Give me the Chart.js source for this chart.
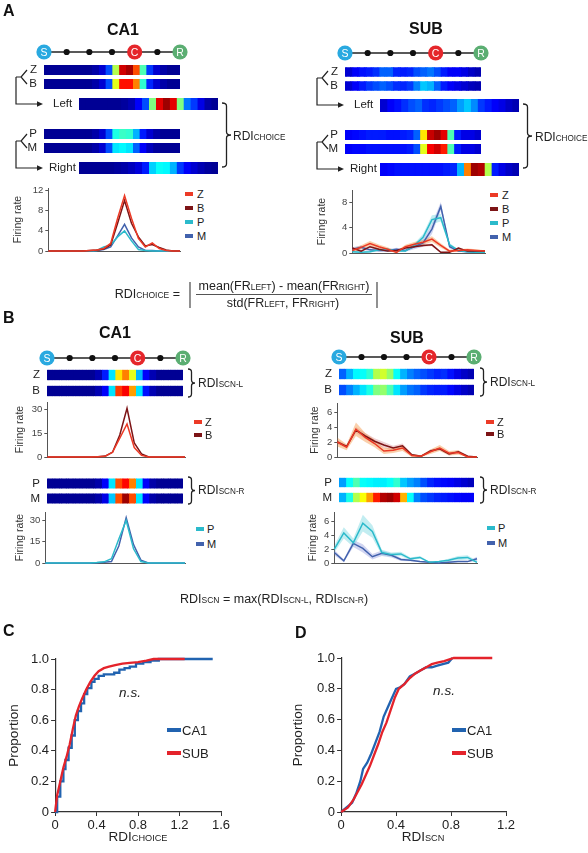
<!DOCTYPE html>
<html>
<head>
<meta charset="utf-8">
<script src="https://cdn.jsdelivr.net/npm/chart.js@4.4.1/dist/chart.umd.min.js"></script>
<style>
body { margin: 0; background: #fff; }
#fig { position: relative; width: 588px; height: 853px; overflow: hidden; font-family: "Liberation Sans", Arial, sans-serif; color: #222; }
#fig canvas { position: absolute; }
#deco { position: absolute; left: 0; top: 0; }
.t { position: absolute; white-space: nowrap; line-height: 1; }
.bold { font-weight: bold; font-size: 16px; color: #111; }
.lab { font-size: 11.5px; }
.rdi { font-size: 12px; }
.sc { font-size: 0.68em; }
.frm { font-size: 12.5px; }
.ns { font-style: italic; font-size: 13.5px; }
.ax { font-size: 13.5px; }
.leg { font-size: 11px; }
.legbig { font-size: 13px; }
.mark { position: absolute; }
</style>
</head>
<body>
<div id="fig"></div>
<script>
// ---- data ----
// heatmap rows, normalised firing (0..1), 20 spatial bins
const heatA_CA1_Z = [0.02,0.02,0.02,0.02,0.02,0.02,0.02,0.04,0.08,0.2,0.55,0.92,0.96,0.8,0.45,0.18,0.08,0.04,0.02,0.02];
const heatA_CA1_B = [0.02,0.02,0.02,0.02,0.02,0.02,0.02,0.04,0.08,0.2,0.6,0.86,0.86,0.75,0.42,0.16,0.08,0.04,0.02,0.02];
const heatA_CA1_Left = [0.02,0.02,0.02,0.02,0.02,0.02,0.03,0.05,0.12,0.2,0.5,0.9,0.97,0.9,0.5,0.24,0.18,0.1,0.04,0.02];
const heatA_CA1_P = [0.02,0.02,0.02,0.02,0.02,0.02,0.02,0.04,0.08,0.2,0.4,0.43,0.42,0.3,0.15,0.08,0.04,0.02,0.02,0.02];
const heatA_CA1_M = [0.02,0.02,0.02,0.02,0.02,0.02,0.02,0.04,0.08,0.2,0.35,0.37,0.35,0.22,0.12,0.06,0.03,0.02,0.02,0.02];
const heatA_CA1_Right = [0.02,0.02,0.02,0.02,0.02,0.03,0.04,0.06,0.09,0.15,0.33,0.38,0.37,0.3,0.18,0.12,0.08,0.05,0.03,0.02];

const heatA_SUB_Z = [0.08,0.12,0.14,0.15,0.17,0.22,0.22,0.16,0.15,0.16,0.2,0.22,0.24,0.2,0.15,0.12,0.12,0.1,0.07,0.05];
const heatA_SUB_B = [0.08,0.12,0.15,0.18,0.2,0.22,0.2,0.17,0.16,0.18,0.25,0.32,0.3,0.22,0.15,0.12,0.1,0.08,0.06,0.05];
const heatA_SUB_Left = [0.08,0.12,0.14,0.17,0.2,0.22,0.17,0.16,0.18,0.2,0.22,0.28,0.32,0.26,0.18,0.15,0.12,0.1,0.07,0.05];
const heatA_SUB_P = [0.12,0.13,0.14,0.15,0.15,0.15,0.14,0.14,0.15,0.16,0.22,0.65,0.93,0.97,0.9,0.45,0.15,0.1,0.1,0.08];
const heatA_SUB_M = [0.12,0.13,0.13,0.14,0.14,0.14,0.14,0.14,0.14,0.15,0.2,0.6,0.88,0.92,0.85,0.45,0.15,0.1,0.1,0.08];
const heatA_SUB_Right = [0.12,0.13,0.14,0.14,0.14,0.14,0.14,0.14,0.14,0.15,0.16,0.3,0.75,0.97,0.95,0.55,0.15,0.1,0.07,0.05];

const heatB_CA1_Z = [0.02,0.02,0.02,0.02,0.02,0.02,0.02,0.05,0.15,0.35,0.65,0.75,0.6,0.3,0.12,0.05,0.02,0.02,0.02,0.02];
const heatB_CA1_B = [0.02,0.02,0.02,0.02,0.02,0.02,0.02,0.05,0.12,0.35,0.82,0.88,0.72,0.35,0.14,0.05,0.02,0.02,0.02,0.02];
const heatB_CA1_P = [0.02,0.02,0.02,0.02,0.02,0.02,0.02,0.04,0.12,0.35,0.8,0.87,0.75,0.35,0.12,0.04,0.02,0.02,0.02,0.02];
const heatB_CA1_M = [0.02,0.02,0.02,0.02,0.02,0.02,0.02,0.04,0.1,0.32,0.8,0.97,0.8,0.35,0.12,0.04,0.02,0.02,0.02,0.02];

const heatB_SUB_Z = [0.22,0.3,0.37,0.38,0.42,0.55,0.58,0.52,0.38,0.3,0.25,0.22,0.2,0.18,0.16,0.17,0.14,0.1,0.07,0.05];
const heatB_SUB_B = [0.2,0.25,0.3,0.35,0.4,0.5,0.52,0.45,0.35,0.28,0.24,0.22,0.18,0.16,0.15,0.15,0.13,0.1,0.07,0.05];
const heatB_SUB_P = [0.28,0.38,0.45,0.38,0.37,0.36,0.36,0.38,0.42,0.32,0.28,0.25,0.2,0.16,0.14,0.13,0.12,0.1,0.08,0.06];
const heatB_SUB_M = [0.3,0.4,0.55,0.62,0.72,0.85,0.95,0.97,0.92,0.7,0.38,0.25,0.2,0.18,0.16,0.15,0.14,0.13,0.12,0.12];

// firing rate curves (Hz)
const frA_CA1_Z = [0,0,0,0,0,0,0.1,0.2,0.5,1.5,6.5,11,6.5,2.5,0.8,1.6,0.5,0.1,0,0];
const frA_CA1_B = [0,0,0,0,0,0,0.1,0.2,0.4,1.2,5.5,10,5.5,2.8,1.0,1.3,0.7,0.2,0,0];
const frA_CA1_P = [0,0,0,0,0,0,0,0.1,0.8,1.2,2.8,4,2.0,0.3,0.1,0,0,0,0,0];
const frA_CA1_M = [0,0,0,0,0,0,0,0.1,0.3,0.8,3,5.3,2.6,0.8,0.1,0.1,0,0,0,0];

const frA_SUB_Z = [0.4,0.9,1.5,1.0,0.6,0.1,1.0,1.4,1.7,2.2,1.2,0.3,0.4,0.5,0.4,0.3];
const frA_SUB_B = [0.8,0.3,1.0,0.6,0.3,0.4,0.8,1.0,1.2,1.3,0.1,0.1,0.8,0.3,0.3,0.3];
const frA_SUB_P = [0.2,0.1,0.2,0.5,0.6,0.3,0.3,1.2,2.5,5.3,5.6,1.3,0.4,0.2,0.1,0.1];
const frA_SUB_M = [0.6,0.9,0.5,0.4,0.4,0.6,0.4,1.0,1.6,3.8,7.4,1.0,0.3,0.2,0.1,0.1];
const semA_SUB_Z = [0.3,0.35,0.4,0.35,0.3,0.2,0.3,0.35,0.4,0.45,0.35,0.2,0.2,0.2,0.2,0.15];
const semA_SUB_B = [0.15,0.1,0.15,0.15,0.1,0.1,0.15,0.15,0.2,0.2,0.1,0.1,0.15,0.1,0.1,0.1];
const semA_SUB_P = [0.15,0.1,0.15,0.2,0.2,0.15,0.15,0.3,0.5,0.7,0.6,0.3,0.15,0.1,0.1,0.1];
const semA_SUB_M = [0.3,0.3,0.25,0.2,0.2,0.25,0.2,0.4,0.6,0.8,0.7,0.3,0.15,0.1,0.1,0.1];

const frB_CA1_Z = [0,0,0,0,0,0,0,0.2,0.5,3,12,21,6,1,0,0,0,0,0,0];
const frB_CA1_B = [0,0,0,0,0,0,0,0.2,0.6,3,14,31,9,2,0,0,0,0,0,0];
const frB_CA1_P = [0,0,0,0,0,0,0,0.3,0.8,3,17,30,10,1,0,0,0,0,0,0];
const frB_CA1_M = [0,0,0,0,0,0,0,0.2,0.5,1,12,32,13,2,0,0,0,0,0,0];

const frB_SUB_Z = [2.0,1.3,3.7,2.6,1.8,0.8,0.9,1.2,0.2,0.1,0.7,1.2,0.5,0.6,0,0];
const frB_SUB_B = [2.0,1.4,3.6,2.8,2.1,1.6,1.2,1.5,0.3,0.1,0.8,1.1,0.4,0.7,0.1,0];
const frB_SUB_P = [2.0,4.3,2.9,5.7,4.5,1.5,1.2,1.3,0.6,0.8,0.1,0.2,0.4,0.7,0.8,0.1];
const frB_SUB_M = [1.5,0.3,2.8,2.1,0.9,1.4,1.1,0.5,0.4,0.2,0.1,0,0.1,0.2,0.2,0.6];
const semB_SUB_Z = [0.6,0.4,0.9,0.6,0.5,0.4,0.35,0.4,0.2,0.15,0.3,0.4,0.3,0.3,0.1,0.05];
const semB_SUB_B = [0.3,0.2,0.4,0.4,0.4,0.4,0.3,0.3,0.15,0.1,0.2,0.2,0.2,0.2,0.1,0.05];
const semB_SUB_P = [0.5,0.8,0.6,1.2,0.9,0.4,0.3,0.3,0.2,0.2,0.1,0.1,0.2,0.3,0.3,0.2];
const semB_SUB_M = [0.4,0.2,0.5,0.6,0.4,0.4,0.3,0.2,0.15,0.1,0.1,0.05,0.1,0.1,0.1,0.3];

const ticksA_CA1 = [0, 4, 8, 12];
const ticksA_SUB = [0, 4, 8];
const ticksB_CA1 = [0, 15, 30];
const ticksB_SUB = [0, 2, 4, 6];

// cumulative distributions
const cdfC_CA1_x = [0,0.02,0.05,0.08,0.1,0.13,0.16,0.19,0.22,0.25,0.28,0.31,0.35,0.38,0.42,0.47,0.52,0.57,0.62,0.67,0.72,0.78,0.85,0.92,1.0,1.52];
const cdfC_CA1_y = [0,0.1,0.2,0.28,0.34,0.42,0.5,0.6,0.66,0.71,0.77,0.81,0.85,0.87,0.89,0.9,0.9,0.91,0.93,0.94,0.95,0.97,0.98,0.99,1.0,1.0];
const cdfC_SUB_x = [0,0.02,0.05,0.08,0.11,0.14,0.17,0.2,0.23,0.26,0.3,0.34,0.38,0.42,0.47,0.52,0.58,0.65,0.72,0.8,0.88,0.95,1.25];
const cdfC_SUB_y = [0,0.11,0.2,0.29,0.36,0.44,0.54,0.63,0.69,0.74,0.8,0.85,0.89,0.92,0.94,0.95,0.96,0.97,0.975,0.98,0.99,1.0,1.0];
const cdfD_CA1_x = [0,0.04,0.08,0.11,0.14,0.16,0.19,0.22,0.25,0.28,0.31,0.34,0.37,0.4,0.43,0.46,0.5,0.54,0.58,0.62,0.66,0.7,0.74,0.78,0.81];
const cdfD_CA1_y = [0,0.03,0.06,0.12,0.2,0.28,0.32,0.38,0.45,0.52,0.62,0.68,0.74,0.8,0.81,0.83,0.88,0.9,0.92,0.94,0.94,0.95,0.96,0.97,1.0];
const cdfD_SUB_x = [0,0.05,0.09,0.12,0.15,0.18,0.21,0.24,0.27,0.3,0.33,0.36,0.39,0.42,0.46,0.5,0.54,0.58,0.62,0.66,0.7,0.75,0.82,1.1];
const cdfD_SUB_y = [0,0.03,0.08,0.13,0.18,0.24,0.3,0.37,0.44,0.52,0.58,0.66,0.74,0.8,0.83,0.87,0.9,0.92,0.94,0.96,0.97,0.98,1.0,1.0];

const trackNodes = ['S', '', '', '', 'C', '', 'R'];

// ---- styling ----
const FONT = '"Liberation Sans", Arial, sans-serif';
const AX = '#555';
const colZ = '#ec3a26', colB = '#7d1416', colP = '#2bbacb', colM = '#4262ad';
const bandZ = 'rgba(245,150,70,0.45)', bandB = 'rgba(200,100,110,0.3)';
const bandP = 'rgba(120,215,225,0.45)', bandM = 'rgba(140,150,220,0.4)';
const colCA1 = '#2163b0', colSUB = '#e4232b';
const nodeColors = { S: '#29a9e0', C: '#e5262b', R: '#5bae72' };

Chart.defaults.font.family = FONT;
Chart.defaults.animation = false;

const fig = document.getElementById('fig');

function jet(v) {
    const c = x => Math.round(255 * Math.min(1, Math.max(0, x)));
    return `rgb(${c(1.5 - Math.abs(4 * v - 3))},${c(1.5 - Math.abs(4 * v - 2))},${c(1.5 - Math.abs(4 * v - 1))})`;
}

function makeCanvas(left, top, w, h) {
    const cv = document.createElement('canvas');
    cv.width = Math.round(w);
    cv.height = Math.round(h);
    cv.style.left = left + 'px';
    cv.style.top = top + 'px';
    fig.appendChild(cv);
    return cv;
}

function txt(html, x, y, cls, anchor) {
    const d = document.createElement('div');
    d.className = 't ' + cls;
    d.innerHTML = html;
    d.style.left = x + 'px';
    d.style.top = y + 'px';
    const tx = anchor === 'l' ? '0' : anchor === 'r' ? '-100%' : '-50%';
    d.style.transform = `translate(${tx},-50%)`;
    fig.appendChild(d);
}

function legend(markX, textX, ys, names, colors, cls, mw, mh) {
    names.forEach((n, i) => {
        const m = document.createElement('div');
        m.className = 'mark';
        m.style.cssText = `left:${markX}px;top:${ys[i] - mh / 2}px;width:${mw}px;height:${mh}px;background:${colors[i]}`;
        fig.appendChild(m);
        txt(n, textX, ys[i], cls, 'l');
    });
}

function heatmap(x, firstTop, width, rows, rowLabels, pitch, thick) {
    const labelW = rowLabels ? 16 : 0;
    const cv = makeCanvas(x - labelW, firstTop - (pitch - thick) / 2, width + labelW, rows.length * pitch);
    const nBins = rows[0].length;
    const datasets = [];
    for (let i = 0; i < nBins; i++) {
        const colors = rows.map(r => jet(r[i]));
        datasets.push({
            data: rows.map(() => 1),
            backgroundColor: colors,
            borderColor: colors,
            borderWidth: { left: 1, right: 1, top: 0, bottom: 0 },
            borderSkipped: false,
            inflateAmount: 0.6,
            barPercentage: 1,
            categoryPercentage: thick / pitch
        });
    }
    new Chart(cv, {
        type: 'bar',
        data: { labels: rowLabels || rows.map(() => ''), datasets },
        options: {
            indexAxis: 'y',
            responsive: false,
            layout: { padding: 0 },
            plugins: { legend: { display: false }, tooltip: { enabled: false } },
            scales: {
                x: { type: 'linear', stacked: true, min: 0, max: nBins, display: false },
                y: {
                    stacked: true,
                    display: !!rowLabels,
                    grid: { display: false, drawTicks: false },
                    border: { display: false },
                    ticks: { font: { size: 11.5 }, color: '#222', padding: 7, autoSkip: false },
                    afterFit: s => { s.width = labelW; s.paddingTop = 0; s.paddingBottom = 0; }
                }
            }
        }
    });
}

function firing(g, series) {
    const left = g.titleX - 8.3;
    const cv = makeCanvas(left, g.top - 4, g.right - left + 4, g.bottom - g.top + 8);
    const datasets = [];
    series.forEach(s => {
        if (!s.sem) return;
        datasets.push({ data: s.values.map((v, i) => Math.max(0, v - s.sem[i])), borderWidth: 0, pointRadius: 0, fill: false, order: 10, clip: 4 });
        datasets.push({ data: s.values.map((v, i) => v + s.sem[i]), borderWidth: 0, pointRadius: 0, fill: '-1', backgroundColor: s.band, order: 10, clip: 4 });
    });
    series.forEach((s, k) => {
        datasets.push({ label: s.name, data: s.values, borderColor: s.color, borderWidth: 1.5, pointRadius: 0, fill: false, order: 1 + k, clip: 4 });
    });
    new Chart(cv, {
        type: 'line',
        data: { labels: series[0].values.map((_, i) => i), datasets },
        options: {
            responsive: false,
            layout: { padding: { left: 0, right: 4, top: 4, bottom: 4 } },
            plugins: { legend: { display: false }, tooltip: { enabled: false } },
            scales: {
                x: {
                    offset: false,
                    ticks: { display: false },
                    grid: { display: false },
                    border: { display: true, color: AX, width: 1 },
                    afterFit: s => { s.height = 0; s.paddingLeft = 0; s.paddingRight = 0; }
                },
                y: {
                    min: 0,
                    max: g.max,
                    afterBuildTicks: a => { a.ticks = g.ticks.map(v => ({ value: v })); },
                    ticks: { font: { size: 9.5 }, color: '#444', padding: 2 },
                    grid: { display: true, drawOnChartArea: false, drawTicks: true, tickLength: 3, color: AX },
                    border: { display: true, color: AX, width: 1 },
                    title: { display: true, text: 'Firing rate', font: { size: 10.5 }, color: '#333', padding: { top: 2, bottom: 2 } },
                    afterFit: s => { s.width = g.axisX - left; s.paddingTop = 0; s.paddingBottom = 0; }
                }
            }
        }
    });
}

function cdf(g, series) {
    const left = g.titleX - 12.1;
    const cv = makeCanvas(left, g.top - 6, g.right - left + 14, g.bottom - g.top + 6 + 30);
    const fmt = v => (Math.abs(v) < 1e-9 ? '0' : v.toFixed(1));
    new Chart(cv, {
        type: 'line',
        data: {
            datasets: series.map((s, k) => ({
                label: s.name,
                data: s.xs.map((x, i) => ({ x, y: s.ys[i] })),
                borderColor: s.color,
                borderWidth: 2.3,
                pointRadius: 0,
                stepped: s.stepped ? 'before' : false,
                order: series.length - k,
                clip: 4
            }))
        },
        options: {
            responsive: false,
            layout: { padding: { left: 0, right: 14, top: 6, bottom: 0 } },
            plugins: { legend: { display: false }, tooltip: { enabled: false } },
            scales: {
                x: {
                    type: 'linear', min: 0, max: g.xMax,
                    ticks: { stepSize: 0.4, font: { size: 13 }, color: '#222', padding: 2, callback: fmt },
                    grid: { display: true, drawOnChartArea: false, tickLength: 4, color: '#333' },
                    border: { display: true, color: '#333', width: 1.2 },
                    afterFit: s => { s.height = 30; s.paddingLeft = 0; s.paddingRight = 0; }
                },
                y: {
                    min: 0, max: 1,
                    ticks: { stepSize: 0.2, font: { size: 13 }, color: '#222', padding: 2, callback: fmt },
                    grid: { display: true, drawOnChartArea: false, tickLength: 4, color: '#333' },
                    border: { display: true, color: '#333', width: 1.2 },
                    title: { display: true, text: 'Proportion', font: { size: 13.5 }, color: '#222', padding: { top: 4, bottom: 4 } },
                    afterFit: s => { s.width = g.axisX - left; s.paddingTop = 0; s.paddingBottom = 0; }
                }
            }
        }
    });
}

// ---- heatmaps ----
heatmap(44, 65, 136, [heatA_CA1_Z, heatA_CA1_B], ['Z', 'B'], 14, 10);
heatmap(79, 98, 139, [heatA_CA1_Left], null, 12, 12);
heatmap(44, 129, 136, [heatA_CA1_P, heatA_CA1_M], ['P', 'M'], 14, 10);
heatmap(79, 162, 139, [heatA_CA1_Right], null, 12, 12);

heatmap(345, 67, 136, [heatA_SUB_Z, heatA_SUB_B], ['Z', 'B'], 14, 9.5);
heatmap(380, 99, 139, [heatA_SUB_Left], null, 12.5, 12.5);
heatmap(345, 130, 136, [heatA_SUB_P, heatA_SUB_M], ['P', 'M'], 14, 10);
heatmap(380, 162.5, 139, [heatA_SUB_Right], null, 12.5, 12.5);

heatmap(47, 370, 136, [heatB_CA1_Z, heatB_CA1_B], ['Z', 'B'], 16, 10.5);
heatmap(47, 478, 136, [heatB_CA1_P, heatB_CA1_M], ['P', 'M'], 15, 10);
heatmap(339, 369, 135, [heatB_SUB_Z, heatB_SUB_B], ['Z', 'B'], 16, 10.5);
heatmap(339, 478, 135, [heatB_SUB_P, heatB_SUB_M], ['P', 'M'], 15, 9.5);

// ---- firing rate curves ----
firing({ titleX: 18, axisX: 48, right: 180, top: 188, bottom: 251, max: 12.5, ticks: ticksA_CA1 }, [
    { name: 'Z', color: colZ, values: frA_CA1_Z },
    { name: 'B', color: colB, values: frA_CA1_B },
    { name: 'P', color: colP, values: frA_CA1_P },
    { name: 'M', color: colM, values: frA_CA1_M }
]);
firing({ titleX: 322, axisX: 352, right: 485, top: 190, bottom: 253, max: 10, ticks: ticksA_SUB }, [
    { name: 'Z', color: colZ, values: frA_SUB_Z, sem: semA_SUB_Z, band: bandZ },
    { name: 'B', color: colB, values: frA_SUB_B, sem: semA_SUB_B, band: bandB },
    { name: 'P', color: colP, values: frA_SUB_P, sem: semA_SUB_P, band: bandP },
    { name: 'M', color: colM, values: frA_SUB_M, sem: semA_SUB_M, band: bandM }
]);
firing({ titleX: 20, axisX: 47, right: 185, top: 402, bottom: 457, max: 35, ticks: ticksB_CA1 }, [
    { name: 'Z', color: colZ, values: frB_CA1_Z },
    { name: 'B', color: colB, values: frB_CA1_B }
]);
firing({ titleX: 315, axisX: 337, right: 477, top: 403, bottom: 457, max: 7.2, ticks: ticksB_SUB }, [
    { name: 'Z', color: colZ, values: frB_SUB_Z, sem: semB_SUB_Z, band: bandZ },
    { name: 'B', color: colB, values: frB_SUB_B, sem: semB_SUB_B, band: bandB }
]);
firing({ titleX: 20, axisX: 45, right: 185, top: 512, bottom: 563, max: 36, ticks: ticksB_CA1 }, [
    { name: 'P', color: colP, values: frB_CA1_P },
    { name: 'M', color: colM, values: frB_CA1_M }
]);
firing({ titleX: 313, axisX: 334, right: 477, top: 512, bottom: 563, max: 7.3, ticks: ticksB_SUB }, [
    { name: 'P', color: colP, values: frB_SUB_P, sem: semB_SUB_P, band: bandP },
    { name: 'M', color: colM, values: frB_SUB_M, sem: semB_SUB_M, band: bandM }
]);

// ---- cumulative plots ----
cdf({ titleX: 14, axisX: 55, right: 221, top: 659, bottom: 812, xMax: 1.6 }, [
    { name: 'CA1', color: colCA1, xs: cdfC_CA1_x, ys: cdfC_CA1_y, stepped: true },
    { name: 'SUB', color: colSUB, xs: cdfC_SUB_x, ys: cdfC_SUB_y }
]);
cdf({ titleX: 298, axisX: 341, right: 506, top: 658, bottom: 812, xMax: 1.2 }, [
    { name: 'CA1', color: colCA1, xs: cdfD_CA1_x, ys: cdfD_CA1_y },
    { name: 'SUB', color: colSUB, xs: cdfD_SUB_x, ys: cdfD_SUB_y }
]);

// ---- legends ----
legend(185, 197, [194, 208, 222, 236], ['Z', 'B', 'P', 'M'], [colZ, colB, colP, colM], 'leg', 8, 3.5);
legend(490, 502, [195, 209, 223, 237], ['Z', 'B', 'P', 'M'], [colZ, colB, colP, colM], 'leg', 8, 3.5);
legend(194, 205, [422, 435], ['Z', 'B'], [colZ, colB], 'leg', 8, 3.5);
legend(486, 497, [422, 434], ['Z', 'B'], [colZ, colB], 'leg', 8, 3.5);
legend(196, 207, [529, 544], ['P', 'M'], [colP, colM], 'leg', 8, 3.5);
legend(487, 498, [528, 543], ['P', 'M'], [colP, colM], 'leg', 8, 3.5);
legend(167, 182, [730, 753], ['CA1', 'SUB'], [colCA1, colSUB], 'legbig', 14, 4);
legend(452, 467, [730, 753], ['CA1', 'SUB'], [colCA1, colSUB], 'legbig', 14, 4);

// ---- decorations (track, forks, braces, formula bars) ----
function trackSvg(x0, x1, y) {
    const step = (x1 - x0) / (trackNodes.length - 1);
    let s = `<line x1="${x0}" y1="${y}" x2="${x1}" y2="${y}" stroke="#222" stroke-width="1.5"/>`;
    trackNodes.forEach((n, i) => {
        const cx = x0 + i * step;
        if (n) {
            s += `<circle cx="${cx}" cy="${y}" r="7.6" fill="${nodeColors[n]}"/>`;
            s += `<text x="${cx}" y="${y + 3.6}" text-anchor="middle" font-size="10.5" fill="#fff" font-family='${FONT}'>${n}</text>`;
        } else {
            s += `<circle cx="${cx}" cy="${y}" r="3.1" fill="#111"/>`;
        }
    });
    return s;
}
function forkSvg(dx, dy) {
    let s = '';
    [0, 64].forEach(o => {
        const y = dy + o;
        s += `<path d="M${27 + dx},${70 + y} L${21 + dx},${77 + y} L${27 + dx},${84 + y} M${16 + dx},${77 + y} L${21 + dx},${77 + y} M${16 + dx},${77 + y} L${16 + dx},${104 + y} L${38 + dx},${104 + y}" fill="none" stroke="#222" stroke-width="1.2"/>`;
        s += `<polygon points="${37 + dx},${101.3 + y} ${43 + dx},${104 + y} ${37 + dx},${106.7 + y}" fill="#222"/>`;
    });
    return s;
}
function braceSvg(x, y0, y1, w) {
    const m = (y0 + y1) / 2, h = w / 2;
    return `<path d="M${x},${y0} Q${x + h},${y0} ${x + h},${y0 + 3} L${x + h},${m - 3} Q${x + h},${m} ${x + w},${m} Q${x + h},${m} ${x + h},${m + 3} L${x + h},${y1 - 3} Q${x + h},${y1} ${x},${y1}" fill="none" stroke="#222" stroke-width="1.3"/>`;
}

let svg = '';
svg += trackSvg(44, 180, 52) + trackSvg(345, 481, 53) + trackSvg(47, 183, 358) + trackSvg(339, 474, 357);
svg += forkSvg(0, 0) + forkSvg(301, 1);
svg += braceSvg(222, 103, 167, 9) + braceSvg(523, 104, 168, 9);
svg += braceSvg(188, 369, 397, 7) + braceSvg(188, 477, 504, 7);
svg += braceSvg(480, 368, 396, 7) + braceSvg(480, 477, 503, 7);
svg += `<line x1="190" y1="282" x2="190" y2="308" stroke="#555" stroke-width="1.3"/>`;
svg += `<line x1="377" y1="282" x2="377" y2="308" stroke="#555" stroke-width="1.3"/>`;
svg += `<line x1="196" y1="294.5" x2="372" y2="294.5" stroke="#555" stroke-width="1"/>`;
fig.insertAdjacentHTML('beforeend', `<svg id="deco" width="588" height="853" xmlns="http://www.w3.org/2000/svg">${svg}</svg>`);

// ---- text ----
txt('A', 3, 11, 'bold', 'l');
txt('B', 3, 318, 'bold', 'l');
txt('C', 3, 631, 'bold', 'l');
txt('D', 295, 633, 'bold', 'l');
txt('CA1', 123, 30, 'bold', 'c');
txt('SUB', 426, 29, 'bold', 'c');
txt('CA1', 115, 333, 'bold', 'c');
txt('SUB', 407, 338, 'bold', 'c');

txt('Left', 53, 104, 'lab', 'l');
txt('Right', 49, 168, 'lab', 'l');
txt('Left', 354, 105, 'lab', 'l');
txt('Right', 350, 169, 'lab', 'l');

txt('RDI<span class="sc">CHOICE</span>', 233, 136, 'rdi', 'l');
txt('RDI<span class="sc">CHOICE</span>', 535, 137, 'rdi', 'l');
txt('RDI<span class="sc">SCN-L</span>', 198, 383, 'rdi', 'l');
txt('RDI<span class="sc">SCN-R</span>', 198, 490, 'rdi', 'l');
txt('RDI<span class="sc">SCN-L</span>', 490, 382, 'rdi', 'l');
txt('RDI<span class="sc">SCN-R</span>', 490, 490, 'rdi', 'l');

txt('RDI<span class="sc">CHOICE</span> =', 180, 294, 'frm', 'r');
txt('mean(FR<span class="sc">LEFT</span>) - mean(FR<span class="sc">RIGHT</span>)', 284, 286, 'frm', 'c');
txt('std(FR<span class="sc">LEFT</span>, FR<span class="sc">RIGHT</span>)', 283, 303, 'frm', 'c');
txt('RDI<span class="sc">SCN</span> = max(RDI<span class="sc">SCN-L</span>, RDI<span class="sc">SCN-R</span>)', 180, 599, 'frm', 'l');

txt('n.s.', 130, 693, 'ns', 'c');
txt('n.s.', 444, 691, 'ns', 'c');
txt('RDI<span class="sc">CHOICE</span>', 138, 837, 'ax', 'c');
txt('RDI<span class="sc">SCN</span>', 423, 837, 'ax', 'c');
</script>
</body>
</html>
